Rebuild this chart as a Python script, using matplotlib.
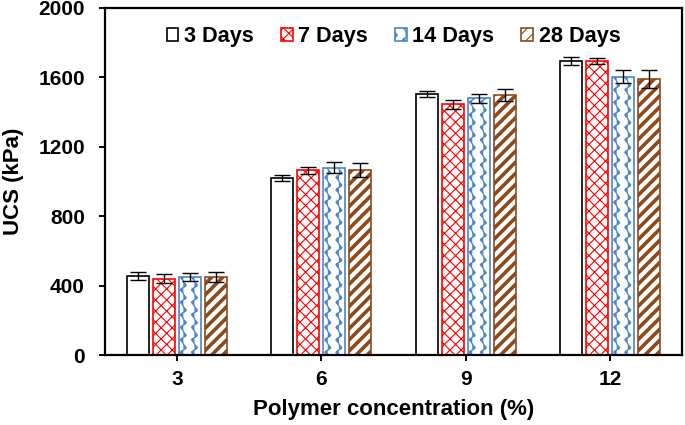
import matplotlib.pyplot as plt
import matplotlib.hatch as mhatch
import numpy as np

# Data
conc = ['3', '6', '9', '12']
days = ['3 Days', '7 Days', '14 Days', '28 Days']
ucs_3d = [455, 1020, 1505, 1695]
ucs_7d = [440, 1065, 1445, 1695]
ucs_14d = [450, 1080, 1480, 1605]
ucs_28d = [450, 1065, 1500, 1590]
err_3d = [25, 18, 18, 22]
err_7d = [25, 20, 25, 15]
err_14d = [25, 30, 25, 40]
err_28d = [28, 40, 35, 50]


# custom wavy hatch ('w') for the 14 days series
class WaveHatch(mhatch.HatchPatternBase):
    def __init__(self, hatch, density):
        self.num_lines = int(hatch.count('w') * 9)
        self.npts = 81
        self.num_vertices = self.num_lines * self.npts

    def set_vertices_and_codes(self, vertices, codes):
        y = np.linspace(0, 1, self.npts)
        k = 0
        for i in range(self.num_lines):
            x0 = (i + 0.5) / self.num_lines
            ph = 2 * np.pi * 8 * y
            x = x0 + 0.025 * (np.sin(ph) + 0.35 * np.sin(2 * ph))
            vertices[k:k + self.npts, 0] = x
            vertices[k:k + self.npts, 1] = y
            codes[k] = mhatch.Path.MOVETO
            codes[k + 1:k + self.npts] = mhatch.Path.LINETO
            k += self.npts


mhatch._hatch_types.append(WaveHatch)

plt.rcParams['font.family'] = ['Liberation Sans', 'DejaVu Sans']
plt.rcParams['font.weight'] = 'bold'

fig = plt.figure(figsize=(6.85, 4.25), dpi=100)
ax = fig.add_axes([0.1533, 0.1647, 0.8423, 0.8165])

x = np.arange(len(conc))
w = 0.153
step = 0.18
series = [ucs_3d, ucs_7d, ucs_14d, ucs_28d]
errs = [err_3d, err_7d, err_14d, err_28d]
colors = ['black', '#ff0000', '#4a86c8', '#8b4a1c']
hatches = [None, 'xxx', 'w', '///']
hlw = [1.0, 0.8, 0.9, 2.6]

for i in range(4):
    bars = ax.bar(x + (i - 1.5) * step, series[i], w, facecolor='white',
                  edgecolor=colors[i], hatch=hatches[i], linewidth=1.2,
                  label=days[i], yerr=errs[i], capsize=6,
                  error_kw=dict(ecolor='black', elinewidth=1, capthick=1), zorder=2)
    for b in bars:
        b.set_hatch_linewidth(hlw[i])

ax.set_xlim(-0.5, 3.5)
ax.set_ylim(0, 2000)
ax.set_yticks(np.arange(0, 2001, 400))
ax.set_xticks(x)
ax.set_xticklabels(conc)
ax.tick_params(labelsize=15, width=1.4, length=4.5)
ax.tick_params(axis='y', pad=10)
ax.tick_params(axis='x', pad=6)
for s in ax.spines.values():
    s.set_linewidth(1.6)
ax.set_xlabel('Polymer concentration (%)', fontsize=16, fontweight='bold')
ax.set_ylabel('UCS (kPa)', fontsize=16, fontweight='bold')
ax.xaxis.set_label_coords(0.5, -0.128)
ax.yaxis.set_label_coords(-0.14, 0.5)

leg = ax.legend(loc='center', bbox_to_anchor=(0.5, 0.918), ncol=4, frameon=False,
                fontsize=15.6, handlelength=0.55, handleheight=0.55, handletextpad=0.25,
                columnspacing=1.25, borderaxespad=0)
for p in leg.get_patches():
    p.set_hatch_linewidth(0.8)

plt.savefig('out.png', dpi=100)
